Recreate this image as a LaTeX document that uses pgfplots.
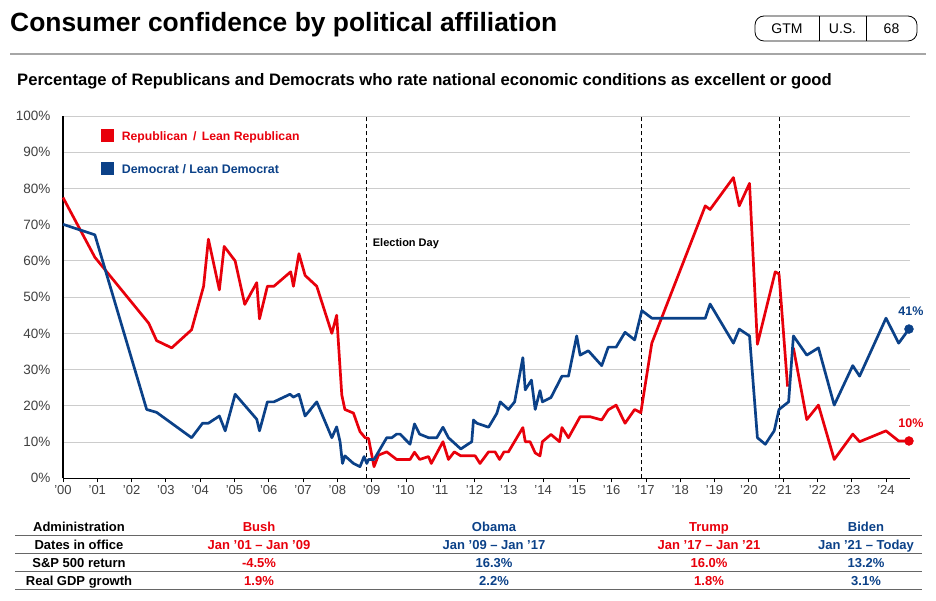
\documentclass[border=0pt]{standalone}
\usepackage{pgfplots}
\pgfplotsset{compat=1.18}
\usepackage{fontspec}
\setmainfont{Liberation Sans}
\definecolor{rep}{HTML}{E8000B}
\definecolor{dem}{HTML}{0B4188}
\definecolor{tickgray}{HTML}{404040}
\newcommand{\fs}[1]{\fontsize{#1}{#1}\selectfont}
\begin{document}
\begin{tikzpicture}[x=1pt,y=1pt]
\path[use as bounding box] (0,0) rectangle (936,600);
% title
\node[anchor=base west, inner sep=0] at (10,568) {\fs{26.4}\bfseries Consumer confidence by political affiliation};
% GTM box
\draw[line width=0.8pt, rounded corners=9pt] (755,559) rectangle (917,584);
\draw[line width=0.8pt] (819,559) -- (819,584);
\draw[line width=0.8pt] (866,559) -- (866,584);
\node[anchor=base, inner sep=0] at (787,566) {\fs{14}GTM};
\node[anchor=base, inner sep=0] at (842.5,566) {\fs{14}U.S.};
\node[anchor=base, inner sep=0] at (891.5,566) {\fs{14}68};
% rule
\draw[gray!70, line width=1.6pt] (10,546) -- (926,546);
% subtitle
\node[anchor=base west, inner sep=0] at (17,514.5) {\fs{16.6}\bfseries Percentage of Republicans and Democrats who rate national economic conditions as excellent or good};

\begin{axis}[
  at={(63pt,121.7pt)}, anchor=south west, scale only axis,
  width=847pt, height=362.3pt,
  xmin=2000, xmax=2024.7, ymin=0, ymax=100,
  axis x line*=bottom, axis y line*=left,
  axis line style={black, line width=1.3pt, -},
  xtick={2000,2001,...,2024},
  xticklabels={'00,'01,'02,'03,'04,'05,'06,'07,'08,'09,'10,'11,'12,'13,'14,'15,'16,'17,'18,'19,'20,'21,'22,'23,'24},
  ytick={0,10,...,100},
  yticklabels={0\%,10\%,20\%,30\%,40\%,50\%,60\%,70\%,80\%,90\%,100\%},
  tick align=outside, major tick length=4pt,
  xtick style={black, line width=0.8pt},
  ytick style={draw=none},
  xticklabel style={font=\fs{13}, text=tickgray},
  yticklabel style={font=\fs{13.5}, text=tickgray, xshift=-5pt},
  ymajorgrids, major grid style={gray!40, line width=0.9pt},
  clip=false,
  unbounded coords=jump,
]
\draw[black, line width=1pt, dash pattern=on 4pt off 3pt] (axis cs:2008.84,0) -- (axis cs:2008.84,100);
\draw[black, line width=1pt, dash pattern=on 4pt off 3pt] (axis cs:2016.88,0) -- (axis cs:2016.88,100);
\draw[black, line width=1pt, dash pattern=on 4pt off 3pt] (axis cs:2020.88,0) -- (axis cs:2020.88,100);
\addplot[rep, line width=2.7pt, line join=round] coordinates {
(2000.0,77.5) (2000.93,61) (2002.5,42.8) (2002.73,38) (2003.17,36) (2003.75,41)
(2004.1,53) (2004.24,66) (2004.56,52) (2004.7,64) (2005.02,60) (2005.3,48)
(2005.65,54) (2005.73,44) (2005.96,53) (2006.15,53) (2006.64,57) (2006.72,53)
(2006.88,62) (2007.06,56) (2007.4,53) (2007.84,40) (2007.98,45) (2008.13,23)
(2008.22,19) (2008.47,18) (2008.66,12.9) (2008.81,11.2) (2008.91,11) (2009.07,3.2)
(2009.2,6.4) (2009.44,7.3) (2009.73,5.2) (2010.12,5.2) (2010.25,7.2) (2010.4,5.2)
(2010.66,6) (2010.74,4.1) (2011.08,10.1) (2011.24,5.2) (2011.41,7.3) (2011.6,6.2)
(2012.02,6.2) (2012.16,4.1) (2012.41,7.3) (2012.6,7.3) (2012.73,5.2) (2012.86,7.3)
(2012.99,7.3) (2013.41,14) (2013.48,10.1) (2013.62,10.1) (2013.77,7) (2013.91,6.2)
(2013.98,10.1) (2014.23,12.1) (2014.48,10.1) (2014.55,14) (2014.74,11.2) (2015.08,17)
(2015.37,17) (2015.71,16.1) (2015.9,18.9) (2016.13,20.2) (2016.39,15.2) (2016.67,19)
(2016.85,18.1) (2017.17,37.3) (2018.73,75.2) (2018.87,74.2) (2019.55,83) (2019.72,75.2)
(2020.02,81.4) (2020.25,37) (2020.77,57) (2020.88,56.4) (2021.13,25.3) (2021.2,nan)
(2021.3,36) (2021.69,16.2) (2022.03,20.2) (2022.49,5.2) (2023.03,12.2) (2023.23,10.1)
(2024.0,13.1) (2024.37,10.3) (2024.67,10.3)
};
\addplot[dem, line width=2.7pt, line join=round] coordinates {
(2000,70.1) (2000.93,67.2) (2002.44,19) (2002.73,18.2) (2003.75,11.2) (2004.07,15.2)
(2004.24,15.2) (2004.56,17.2) (2004.73,13.1) (2005.02,23.2) (2005.65,16.3) (2005.73,13.1)
(2005.96,21.1) (2006.15,21.1) (2006.62,23.2) (2006.72,22.4) (2006.88,23.2) (2007.06,17.2)
(2007.4,21.1) (2007.84,11.2) (2007.98,14.2) (2008.08,10.1) (2008.15,4.1) (2008.22,6.2)
(2008.47,4.1) (2008.66,3.2) (2008.78,6) (2008.86,4.1) (2008.91,5.2) (2009.07,5.2)
(2009.44,11.2) (2009.59,11.2) (2009.73,12.2) (2009.83,12.2) (2010.12,9.4) (2010.25,15)
(2010.4,12.2) (2010.66,11.2) (2010.9,11.2) (2011.08,14.1) (2011.24,11.2) (2011.6,8.1)
(2011.92,10.1) (2011.97,16.1) (2012.07,15.2) (2012.41,14.1) (2012.65,17.9) (2012.75,21.1)
(2012.99,19) (2013.17,21.1) (2013.41,33.3) (2013.48,24.4) (2013.66,27.1) (2013.77,19)
(2013.91,24.2) (2013.98,21.1) (2014.23,22.3) (2014.55,28.2) (2014.74,28.2) (2014.98,39.3)
(2015.08,34) (2015.32,35.2) (2015.71,31.1) (2015.9,36.2) (2016.13,36.2) (2016.39,40.3)
(2016.67,38.2) (2016.88,46.3) (2017.17,44.2) (2018.73,44.2) (2018.87,48.1) (2019.55,37.3)
(2019.72,41.2) (2020.02,39.3) (2020.25,11.2) (2020.48,9.4) (2020.74,13.1) (2020.88,19)
(2021.16,21.1) (2021.3,39.3) (2021.69,34) (2022.03,36) (2022.49,20.2) (2023.03,31.1)
(2023.23,28.2) (2024.0,44.2) (2024.37,37.3) (2024.67,41.2)
};
\addplot[rep, only marks, mark=*, mark size=4.5pt] coordinates {(2024.67,10.3)};
\addplot[dem, only marks, mark=*, mark size=4.5pt] coordinates {(2024.67,41.2)};
\node[text=dem, font=\fs{12.5}\bfseries, inner sep=0] at (axis cs:2024.67,41.2) [xshift=2pt, yshift=18pt] {41\%};
\node[text=rep, font=\fs{12.5}\bfseries, inner sep=0] at (axis cs:2024.67,10.3) [xshift=2pt, yshift=18pt] {10\%};
\end{axis}
% election day
\node[anchor=base west, inner sep=0] at (372.7,353) {\fs{11}\bfseries Election Day};
% legend
\fill[rep] (101.2,457.7) rectangle (114.2,470.7);
\fill[dem] (101.2,424.8) rectangle (114.2,437.8);
\node[anchor=base west, inner sep=0, text=rep] at (121.7,459.8) {\fs{12.2}\bfseries Republican \,/ \,Lean Republican};
\node[anchor=base west, inner sep=0, text=dem] at (121.7,426.9) {\fs{12.4}\bfseries Democrat / Lean Democrat};
% table
\foreach \yy in {65,47,29,11} { \draw[gray!80!black, line width=0.8pt] (15,\yy) -- (922,\yy); }
\begin{scope}[every node/.style={anchor=base, inner sep=0, font=\fs{13}\bfseries}]
\node at (79,68.4) {Administration};
\node at (79,50.4) {Dates in office};
\node at (79,32.4) {S\&P 500 return};
\node at (79,14.4) {Real GDP growth};
\node[text=rep] at (259,68.4) {Bush};
\node[text=rep] at (259,50.4) {Jan ’01 – Jan ’09};
\node[text=rep] at (259,32.4) {-4.5\%};
\node[text=rep] at (259,14.4) {1.9\%};
\node[text=dem] at (494,68.4) {Obama};
\node[text=dem] at (494,50.4) {Jan ’09 – Jan ’17};
\node[text=dem] at (494,32.4) {16.3\%};
\node[text=dem] at (494,14.4) {2.2\%};
\node[text=rep] at (709,68.4) {Trump};
\node[text=rep] at (709,50.4) {Jan ’17 – Jan ’21};
\node[text=rep] at (709,32.4) {16.0\%};
\node[text=rep] at (709,14.4) {1.8\%};
\node[text=dem] at (866,68.4) {Biden};
\node[text=dem] at (866,50.4) {Jan ’21 – Today};
\node[text=dem] at (866,32.4) {13.2\%};
\node[text=dem] at (866,14.4) {3.1\%};
\end{scope}
\end{tikzpicture}
\end{document}
